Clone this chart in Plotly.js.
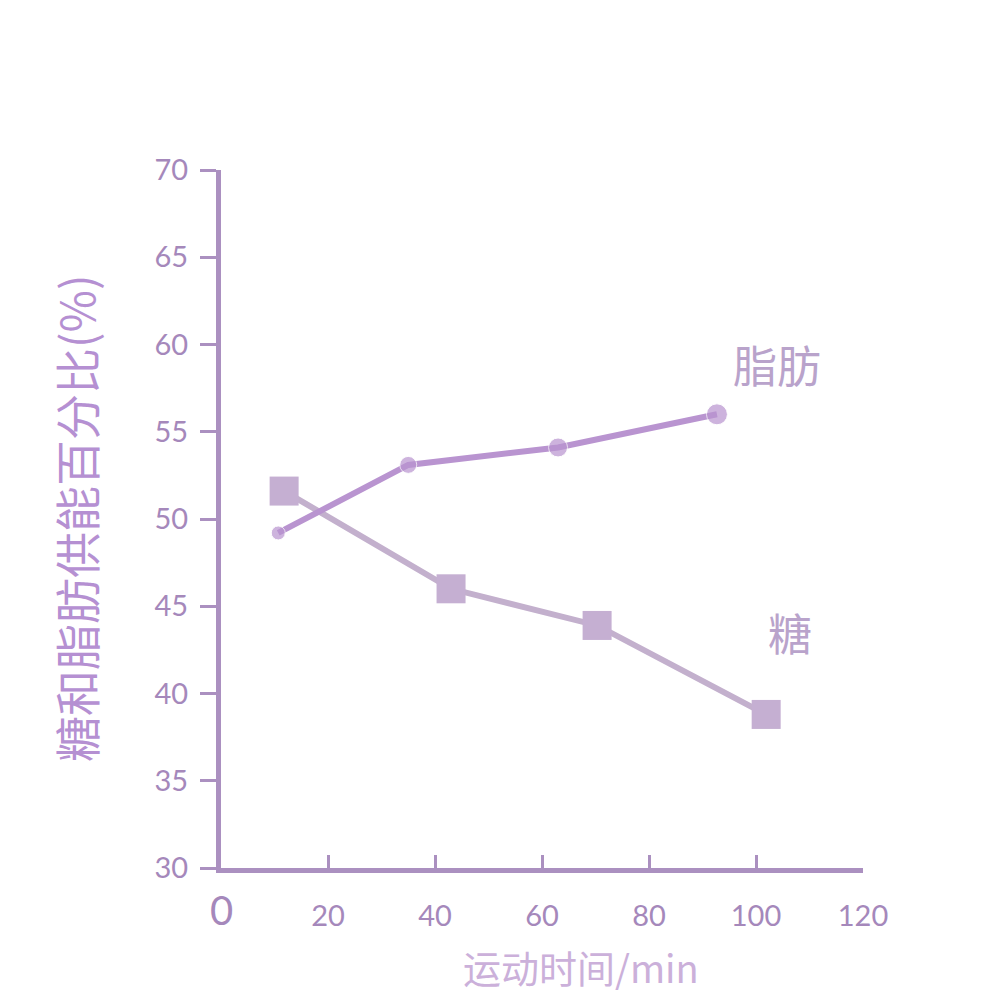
<!DOCTYPE html>
<html>
<head>
<meta charset="utf-8">
<script src="https://cdn.plot.ly/plotly-3.0.1.min.js"></script>
<style>html,body{margin:0;padding:0;background:#fff;}#chart{width:1000px;height:999px;}</style>
</head>
<body>
<div id="chart"></div>
<script>
// Data
const fatTime = [10.7, 35, 63, 92.7];
const fatPct = [49.2, 53.1, 54.1, 56.0];
const sugarTime = [11.8, 43, 70.3, 101.9];
const sugarPct = [51.6, 46.0, 43.9, 38.8];
const xTicks = [20, 40, 60, 80, 100, 120];
const xTickLabels = ['20', '40', '60', '80', '100', '120'];
const yTicks = [30, 35, 40, 45, 50, 55, 60, 65, 70];
const yTickLabels = ['30', '35', '40', '45', '50', '55', '60', '65', '70'];
const fatLabel = '脂肪';
const sugarLabel = '糖';
const yTitle = '糖和脂肪供能百分比(%)';
const xTitle = '运动时间/min';

const axisColor = '#ab90c0';
const tickFont = {family: 'Lato, "Noto Sans", sans-serif', size: 29, color: '#a588bb'};

const traces = [
  {
    x: sugarTime, y: sugarPct, type: 'scatter', mode: 'lines+markers',
    line: {color: '#c3b0cd', width: 6},
    marker: {symbol: 'square', size: 29, color: '#c5afd2'},
    showlegend: false, hoverinfo: 'skip'
  },
  {
    x: fatTime, y: fatPct, type: 'scatter', mode: 'lines+markers',
    line: {color: '#b994d0', width: 6},
    marker: {symbol: 'circle', size: [14, 17, 19, 21], color: '#b994d0'},
    showlegend: false, hoverinfo: 'skip'
  }
];

const layout = {
  width: 1000, height: 999,
  paper_bgcolor: '#ffffff', plot_bgcolor: '#ffffff',
  margin: {l: 221, r: 137, t: 170, b: 131},
  xaxis: {
    range: [0, 120], showgrid: false, zeroline: false,
    showline: true, linecolor: axisColor, linewidth: 5,
    ticks: 'inside', ticklen: 13, tickwidth: 3, tickcolor: axisColor,
    tickvals: xTicks, ticktext: xTickLabels, tickfont: tickFont,
    ticklabelstandoff: 18
  },
  yaxis: {
    range: [30, 70], showgrid: false, zeroline: false,
    showline: true, linecolor: axisColor, linewidth: 5,
    ticks: 'outside', ticklen: 16, tickwidth: 3, tickcolor: axisColor,
    tickvals: yTicks, ticktext: yTickLabels, tickfont: tickFont,
    ticklabelstandoff: 6
  },
  annotations: [
    {text: '0', x: 0, y: 0, xref: 'paper', yref: 'paper', xanchor: 'center', yanchor: 'top', yshift: -16, showarrow: false,
     font: {family: 'Lato, "Noto Sans", sans-serif', size: 40, color: '#a588bb'}},
    {text: fatLabel, x: 92.7, y: 58.9, xref: 'x', yref: 'y', xanchor: 'left', yanchor: 'middle', xshift: 14, showarrow: false,
     font: {family: '"Noto Sans CJK SC", sans-serif', size: 44, color: '#b9a3cb'}},
    {text: sugarLabel, x: 101.9, y: 43.5, xref: 'x', yref: 'y', xanchor: 'left', yanchor: 'middle', xshift: 0, showarrow: false,
     font: {family: '"Noto Sans CJK SC", sans-serif', size: 44, color: '#b9a3cb'}},
    {text: yTitle, x: 0, y: 0.5, xref: 'paper', yref: 'paper', xanchor: 'center', yanchor: 'middle', xshift: -146, textangle: -90, showarrow: false,
     font: {family: '"Noto Sans CJK SC", sans-serif', size: 46, color: '#b590d2'}},
    {text: xTitle, x: 0.56, y: 0, xref: 'paper', yref: 'paper', xanchor: 'center', yanchor: 'bottom', yshift: -128, showarrow: false,
     font: {family: '"Noto Sans CJK SC", sans-serif', size: 38, color: '#cbb0da'}}
  ]
};

Plotly.newPlot('chart', traces, layout, {displayModeBar: false, staticPlot: true});
</script>
</body>
</html>
